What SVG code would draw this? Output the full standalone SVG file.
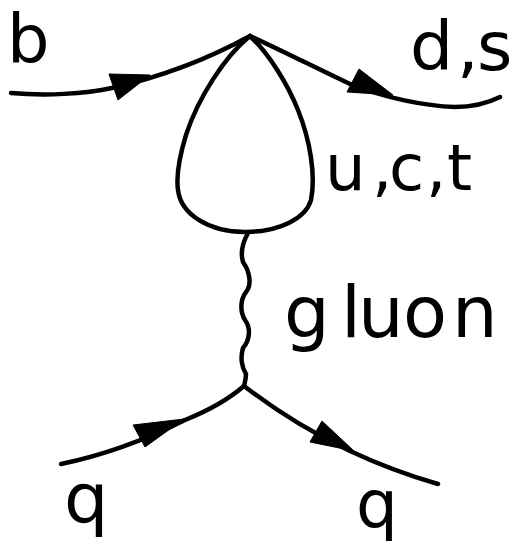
<svg xmlns="http://www.w3.org/2000/svg" width="519" height="547" viewBox="0 0 519 547">
<style>
.l{fill:none;stroke:#000;stroke-width:4.5;stroke-linecap:round;stroke-linejoin:round}
.a{fill:#000;stroke:#000;stroke-width:1;stroke-linejoin:round}
text{font-family:"DejaVu Sans",sans-serif;fill:#000}
</style>
<defs><filter id="soft" x="-5%" y="-5%" width="110%" height="110%"><feGaussianBlur stdDeviation="0.7"/></filter></defs>
<rect width="519" height="547" fill="#fff"/>
<g id="connectors" filter="url(#soft)">
<path class="l" d="M11 93C45 96 85 94 112 88C160 77 210 58 250 36"/>
<path class="l" d="M250 36C285 52 320 70 350 84C385 98 425 106 455 107C475 107 490 102 500 97"/>
<path class="l" d="M250 36C225 56 198 98 186 135C179 158 176 176 178 190C181 215 210 232 245 232C280 232 306 218 311 200C316 175 310 140 298 110C288 85 270 55 250 36"/>
<path class="l" d="M248 233C243 242 240 252 243 262C250 272 252 285 246 292C240 300 240 312 245 320C251 328 250 340 243 348C240 358 242 368 246 374C246 379 245 382 244 386"/>
<path class="l" d="M61 464C100 456 145 440 185 420C210 410 230 398 244 386"/>
<path class="l" d="M244 386C270 406 310 432 350 451C380 465 410 476 438 484"/>
<path class="a" d="M109 74L150 75L118 100Z"/>
<path class="a" d="M359 69L393 95L347 92Z"/>
<path class="a" d="M133 425L184 419L145 447Z"/>
<path class="a" d="M322 421L354 451L310 442Z"/>
</g>
<g id="labels" filter="url(#soft)">
<text x="7" y="63" font-size="67">b</text>
<text y="70" font-size="68" x="410 457 477">d,s</text>
<text y="190" font-size="64" x="325 372 389 426 447">u,c,t</text>
<text y="337" font-size="72" x="284 341 358 403 452">gluon</text>
<text x="64" y="523" font-size="70">q</text>
<text x="356" y="527" font-size="66">q</text>
</g>
</svg>
